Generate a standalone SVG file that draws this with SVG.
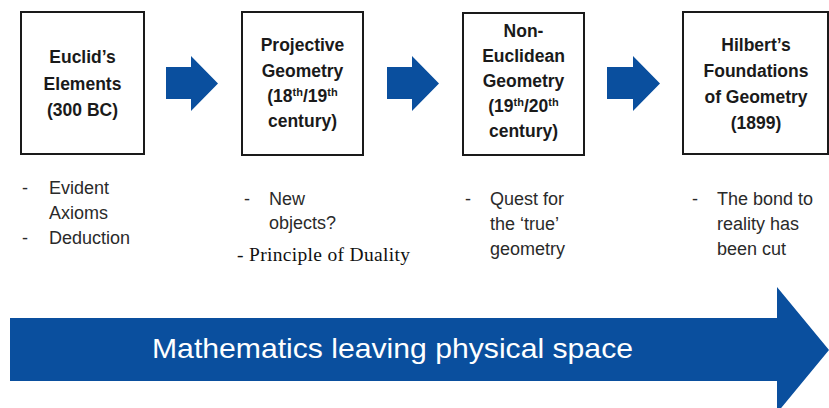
<svg xmlns="http://www.w3.org/2000/svg" width="829" height="408" viewBox="0 0 829 408">
<style>
.box{fill:#fff;stroke:#1a1a1a;stroke-width:2}
.bt{font-family:"Liberation Sans",Arial,sans-serif;font-weight:bold;font-size:17.5px;fill:#1a1a1a;text-anchor:middle}
.sup{font-size:11px}
.bl{font-family:"Liberation Sans",Arial,sans-serif;font-size:18px;fill:#2a2a2a}
.arr{fill:#0a4f9e}
</style>
<rect width="829" height="408" fill="#fff"/>
<g id="node-euclid">
<rect class="box" x="21" y="12" width="123" height="142"/>
<text class="bt" x="82.5" y="63">Euclid’s</text>
<text class="bt" x="82.5" y="90">Elements</text>
<text class="bt" x="82.5" y="116">(300 BC)</text>
</g>
<g id="node-projective">
<rect class="box" x="242" y="12" width="121" height="143"/>
<text class="bt" x="302.5" y="51">Projective</text>
<text class="bt" x="302.5" y="77">Geometry</text>
<text class="bt" x="302.5" y="102">(18<tspan class="sup" dy="-6">th</tspan><tspan dy="6">/19</tspan><tspan class="sup" dy="-6">th</tspan></text>
<text class="bt" x="302.5" y="127">century)</text>
</g>
<g id="node-noneuclidean">
<rect class="box" x="463" y="13" width="121" height="142"/>
<text class="bt" x="523.5" y="37">Non-</text>
<text class="bt" x="523.5" y="62">Euclidean</text>
<text class="bt" x="523.5" y="87">Geometry</text>
<text class="bt" x="523.5" y="112">(19<tspan class="sup" dy="-6">th</tspan><tspan dy="6">/20</tspan><tspan class="sup" dy="-6">th</tspan></text>
<text class="bt" x="523.5" y="137">century)</text>
</g>
<g id="node-hilbert">
<rect class="box" x="683" y="12" width="145" height="142"/>
<text class="bt" x="756" y="51">Hilbert’s</text>
<text class="bt" x="756" y="77">Foundations</text>
<text class="bt" x="756" y="103">of Geometry</text>
<text class="bt" x="756" y="129">(1899)</text>
</g>
<g id="connectors">
<polygon class="arr" points="166,67 191,67 191,56 218,83.5 191,111 191,99 166,99"/>
<polygon class="arr" points="387,67 412,67 412,56 439,83.5 412,111 412,99 387,99"/>
<polygon class="arr" points="607,67 633,67 633,56 660,83.5 633,111 633,99 607,99"/>
</g>
<g id="notes">
<text class="bl" x="22" y="194">-</text>
<text class="bl" x="49" y="194">Evident</text>
<text class="bl" x="49" y="219">Axioms</text>
<text class="bl" x="22" y="244">-</text>
<text class="bl" x="49" y="244">Deduction</text>
<text class="bl" x="244" y="205">-</text>
<text class="bl" x="269" y="205">New</text>
<text class="bl" x="269" y="229">objects?</text>
<text x="237" y="261" font-family="'Liberation Serif','Times New Roman',serif" font-size="19.5" fill="#111" textLength="173">- Principle of Duality</text>
<text class="bl" x="465" y="205">-</text>
<text class="bl" x="490" y="205">Quest for</text>
<text class="bl" x="490" y="230">the ‘true’</text>
<text class="bl" x="490" y="255">geometry</text>
<text class="bl" x="692" y="205">-</text>
<text class="bl" x="717" y="205">The bond to</text>
<text class="bl" x="717" y="230">reality has</text>
<text class="bl" x="717" y="255">been cut</text>
</g>
<g id="node-banner">
<polygon class="arr" points="10,318 777,318 777,287 829,350 777,413 777,381 10,381"/>
<text x="152" y="358" font-family="'Liberation Sans',Arial,sans-serif" font-size="28" fill="#fff" textLength="481" lengthAdjust="spacingAndGlyphs">Mathematics leaving physical space</text>
</g>
</svg>
